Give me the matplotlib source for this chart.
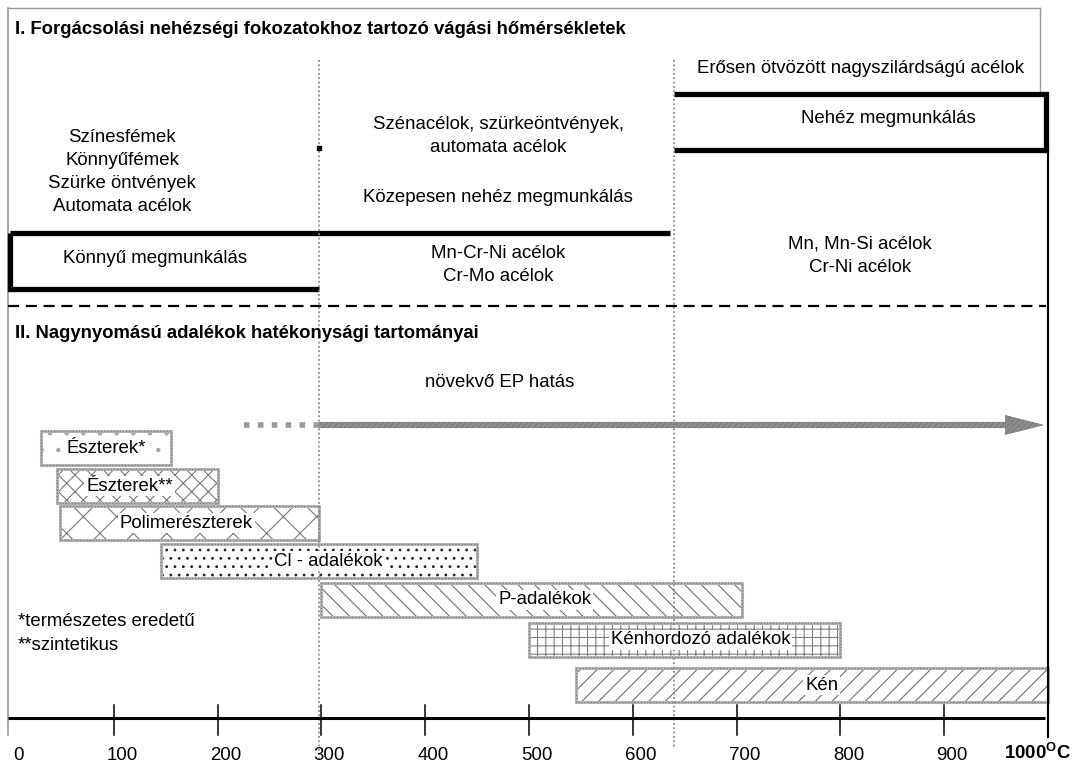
import matplotlib
matplotlib.use('Agg')
import matplotlib.pyplot as plt
from matplotlib.patches import Rectangle, FancyArrow

plt.rcParams['font.family'] = ['Liberation Sans', 'DejaVu Sans']
plt.rcParams['mathtext.fontset'] = 'custom'
plt.rcParams['mathtext.rm'] = 'Liberation Sans'
plt.rcParams['mathtext.bf'] = 'Liberation Sans:bold'
plt.rcParams['hatch.linewidth'] = 0.8

# ---------------- data ----------------
tick_values = [0, 100, 200, 300, 400, 500, 600, 700, 800, 900]
tick_labels = ['0', '100', '200', '300', '400', '500', '600', '700', '800', '900']
end_value = 1000
end_label = r'$\mathbf{1000^{O}C}$'

section1_title = 'I. Forgácsolási nehézségi fokozatokhoz tartozó vágási hőmérsékletek'
section2_title = 'II. Nagynyomású adalékok hatékonysági tartományai'

zone_dividers = [298, 640]

grade_names = ['Könnyű megmunkálás', 'Közepesen nehéz megmunkálás', 'Nehéz megmunkálás']
grade_start = [0, 0, 640]
grade_end = [298, 636, 1000]

materials_light = ['Színesfémek', 'Könnyűfémek', 'Szürke öntvények', 'Automata acélok']
materials_medium_top = ['Szénacélok, szürkeöntvények,', 'automata acélok']
materials_medium_bottom = ['Mn-Cr-Ni acélok', 'Cr-Mo acélok']
materials_heavy_top = 'Erősen ötvözött nagyszilárdságú acélok'
materials_heavy_bottom = ['Mn, Mn-Si acélok', 'Cr-Ni acélok']

additive_names = ['Észterek*', 'Észterek**', 'Polimerészterek', 'Cl - adalékok',
                  'P-adalékok', 'Kénhordozó adalékok', 'Kén']
additive_start = [30, 45, 48, 145, 300, 500, 545]
additive_end = [155, 200, 298, 450, 705, 800, 1000]

ep_label = 'növekvő EP hatás'
ep_dotted_start = 225
ep_start = 298
ep_end = 995

footnotes = ['*természetes eredetű', '**szintetikus']

# ---------------- layout ----------------
W, H = 1075, 765
PX0, PXS = 10.0, 1.038           # pixel of 0 °C, pixels per °C


def v(px):
    return (px - PX0) / PXS


fig = plt.figure(figsize=(W / 100, H / 100), dpi=100)
ax = fig.add_axes([0, 0, 1, 1])
ax.set_xlim(v(0), v(W))
ax.set_ylim(H, 0)
ax.axis('off')

FS = 13.4
FS_TITLE = 13.3
LW_THICK = 3.8
GRAY = '#9a9a9a'

# frame
ax.plot([v(8), v(1040)], [8, 8], color=GRAY, lw=1.0)
ax.plot([v(8), v(8)], [8, 735], color=GRAY, lw=1.2)
ax.plot([v(1040), v(1040)], [8, 93], color=GRAY, lw=1.0)
ax.plot([end_value, end_value], [150, 737], color='black', lw=1.5)

# section I title
ax.text(v(15), 29, section1_title, fontsize=FS_TITLE, fontweight='bold', ha='left', va='center')

# grade boxes
ax.plot([grade_start[1], grade_end[1]], [233, 233], color='black', lw=LW_THICK,
        solid_capstyle='butt')
ax.plot([grade_start[0], grade_start[0], grade_end[0]], [233, 289, 289], color='black',
        lw=LW_THICK, solid_capstyle='butt', solid_joinstyle='miter')
ax.plot([grade_start[2], grade_end[2] - 2, grade_end[2] - 2, grade_start[2]], [94, 94, 150, 150],
        color='black', lw=LW_THICK, solid_capstyle='butt', solid_joinstyle='miter')

ax.text(v(155), 258, grade_names[0], fontsize=FS, ha='center', va='center')
ax.text(v(498), 197, grade_names[1], fontsize=FS, ha='center', va='center')
ax.text(v(888), 118, grade_names[2], fontsize=FS, ha='center', va='center')

for i, name in enumerate(materials_light):
    ax.text(v(122), 137 + 23.3 * i, name, fontsize=FS, ha='center', va='center')
for i, name in enumerate(materials_medium_top):
    ax.text(v(498), 124 + 23 * i, name, fontsize=FS, ha='center', va='center')
for i, name in enumerate(materials_medium_bottom):
    ax.text(v(498), 253 + 23 * i, name, fontsize=FS, ha='center', va='center')
ax.text(v(860), 68, materials_heavy_top, fontsize=FS, ha='center', va='center')
for i, name in enumerate(materials_heavy_bottom):
    ax.text(v(860), 244 + 23 * i, name, fontsize=FS, ha='center', va='center')

# vertical dotted dividers
ax.plot([zone_dividers[0]] * 2, [60, 760], color='#8a8a8a', lw=1.3, linestyle=(0, (1, 1.4)))
ax.plot([zone_dividers[1]] * 2, [60, 748], color='#8a8a8a', lw=1.3, linestyle=(0, (1, 1.4)))
ax.plot([zone_dividers[0]], [148], marker='s', ms=3.5, color='black')

# dashed separator
ax.plot([v(8), v(1046)], [306, 306], color='black', lw=1.6, linestyle=(0, (5, 3)))

# section II title
ax.text(v(15), 333, section2_title, fontsize=FS_TITLE, fontweight='bold', ha='left', va='center')

# EP arrow
ax.text(v(500), 382, ep_label, fontsize=FS, ha='center', va='center')
ax.plot([ep_dotted_start, ep_start], [425, 425], color='#999999', lw=4,
        linestyle=(0, (1, 1.5)))
arrow = FancyArrow(ep_start, 425, ep_end - ep_start, 0, width=5.5, head_width=19,
                   head_length=36, length_includes_head=True, fc='#8c8c8c',
                   ec='#7a7a7a', lw=0.5, hatch='//////')
ax.add_patch(arrow)

# additive bars
bar_top = [431, 469, 506, 544, 583, 623, 668]
bar_h = 34
hatches = ['.', 'xx', 'x', '..', '\\\\', '++', '//']
hatch_colors = ['#a8a8a8', '#7a7a7a', '#7a7a7a', '#222222', '#707070', '#808080', '#707070']
label_x = [93, 115, 170, 307, 515, 665, 782]

for i, name in enumerate(additive_names):
    x0, x1 = additive_start[i], additive_end[i]
    ax.add_patch(Rectangle((x0, bar_top[i]), x1 - x0, bar_h, facecolor='white',
                           edgecolor=hatch_colors[i], lw=0, hatch=hatches[i]))
    ax.add_patch(Rectangle((x0, bar_top[i]), x1 - x0, bar_h, fill=False,
                           edgecolor='#b4b4b4', lw=2.2))
    ax.add_patch(Rectangle((x0, bar_top[i]), x1 - x0, bar_h, fill=False,
                           edgecolor='#7c7c7c', lw=0.9, linestyle=(0, (1, 1.5))))
    ax.text(label_x[i], bar_top[i] + bar_h / 2, name, fontsize=FS, ha='center', va='center',
            bbox=dict(boxstyle='square,pad=0.1', fc='white', ec='none'))

for i, note in enumerate(footnotes):
    ax.text(v(18), 622 + 23 * i, note, fontsize=FS, ha='left', va='center')

# temperature axis
ax.plot([v(8), v(1045)], [718, 718], color='black', lw=2.2, solid_capstyle='butt')
for t, lbl in zip(tick_values, tick_labels):
    if t > 0:
        ax.plot([t, t], [705, 735], color='black', lw=1.1)
    ax.annotate(lbl, xy=(t, 755), xytext=(8, 0), textcoords='offset pixels',
                fontsize=FS, ha='center', va='center')
ax.text(v(1038), 753, end_label, fontsize=FS, ha='center', va='center')

fig.savefig('out.png', dpi=100)
